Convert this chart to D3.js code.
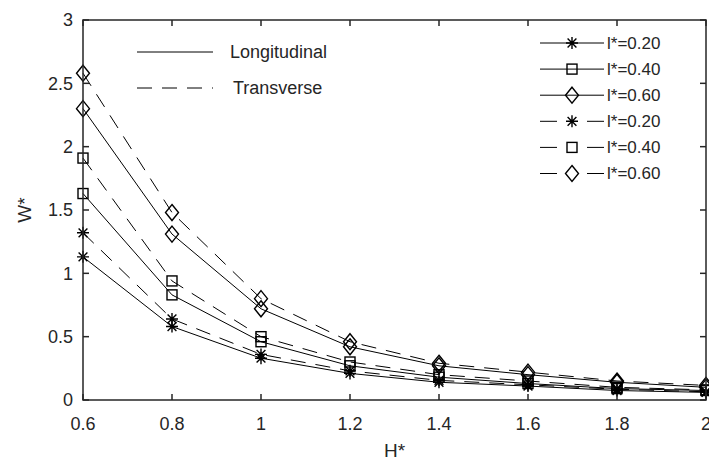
<!DOCTYPE html>
<html>
<head>
<meta charset="utf-8">
<script src="https://cdn.jsdelivr.net/npm/d3@7"></script>
<style>
  body { margin: 0; background: #fff; }
  text { font-family: "Liberation Sans", Arial, sans-serif; fill: #262626; }
</style>
</head>
<body>
<div id="chart"></div>
<script>
// H* values along the x axis
const hValues = [0.6, 0.8, 1.0, 1.2, 1.4, 1.6, 1.8, 2.0];
const lLabels = ['0.20', '0.40', '0.60'];
const markerTypes = ['star', 'square', 'diamond'];

// W*
const longitudinal020 = [1.13, 0.58, 0.33, 0.21, 0.14, 0.11, 0.075, 0.06];
const longitudinal040 = [1.63, 0.83, 0.46, 0.27, 0.18, 0.13, 0.09, 0.075];
const longitudinal060 = [2.30, 1.31, 0.72, 0.42, 0.27, 0.20, 0.14, 0.10];
const transverse020 = [1.32, 0.64, 0.36, 0.23, 0.155, 0.12, 0.085, 0.065];
const transverse040 = [1.91, 0.94, 0.50, 0.30, 0.20, 0.15, 0.10, 0.08];
const transverse060 = [2.58, 1.48, 0.80, 0.46, 0.29, 0.22, 0.15, 0.115];

const xTicks = [0.6, 0.8, 1, 1.2, 1.4, 1.6, 1.8, 2];
const yTicks = [0, 0.5, 1, 1.5, 2, 2.5, 3];

const series = [
  { values: longitudinal020, marker: 0, dashed: false },
  { values: longitudinal040, marker: 1, dashed: false },
  { values: longitudinal060, marker: 2, dashed: false },
  { values: transverse020, marker: 0, dashed: true },
  { values: transverse040, marker: 1, dashed: true },
  { values: transverse060, marker: 2, dashed: true }
];

const width = 709, height = 463;
const margin = { left: 83, top: 20, right: 3, bottom: 63 };
const dash = '15,10';

const svg = d3.select('#chart').append('svg')
  .attr('width', width)
  .attr('height', height);

const x = d3.scaleLinear().domain([0.6, 2]).range([margin.left, width - margin.right]);
const y = d3.scaleLinear().domain([0, 3]).range([height - margin.bottom, margin.top]);

function drawMarker(g, type, cx, cy) {
  const m = g.append('g').attr('transform', 'translate(' + [cx, cy] + ')')
    .style('fill', 'none').style('stroke', '#000').style('stroke-width', 1.4);
  if (type === 'square') {
    m.append('rect').attr('x', -5).attr('y', -5).attr('width', 10).attr('height', 10);
  } else if (type === 'diamond') {
    m.append('path').attr('d', 'M0,-8L6.5,0L0,8L-6.5,0Z');
  } else {
    const r = 6, d = 4.4;
    m.append('path').attr('d',
      'M0,' + -r + 'L0,' + r + 'M' + -r + ',0L' + r + ',0' +
      'M' + -d + ',' + -d + 'L' + d + ',' + d + 'M' + -d + ',' + d + 'L' + d + ',' + -d);
  }
}

const line = d3.line()
  .x((d, i) => x(hValues[i]))
  .y(d => y(d));

const plot = svg.append('g');

series.forEach(s => {
  plot.append('path')
    .datum(s.values)
    .attr('d', line)
    .style('fill', 'none')
    .style('stroke', '#000')
    .style('stroke-width', 1)
    .style('stroke-dasharray', s.dashed ? dash : null);
});

series.forEach(s => {
  s.values.forEach((v, i) => drawMarker(plot, markerTypes[s.marker], x(hValues[i]), y(v)));
});

// axes box with inward ticks
const axisColor = '#262626';
const x0 = x.range()[0], x1 = x.range()[1], y0 = y.range()[0], y1 = y.range()[1];
const frame = svg.append('g').style('stroke', axisColor).style('stroke-width', 1.5).style('fill', 'none');
frame.append('rect').attr('x', x0).attr('y', y1).attr('width', x1 - x0).attr('height', y0 - y1);

const tickLen = 6;
xTicks.forEach(t => {
  frame.append('line').attr('x1', x(t)).attr('x2', x(t)).attr('y1', y0).attr('y2', y0 - tickLen);
  frame.append('line').attr('x1', x(t)).attr('x2', x(t)).attr('y1', y1).attr('y2', y1 + tickLen);
});
yTicks.forEach(t => {
  frame.append('line').attr('x1', x0).attr('x2', x0 + tickLen).attr('y1', y(t)).attr('y2', y(t));
  frame.append('line').attr('x1', x1).attr('x2', x1 - tickLen).attr('y1', y(t)).attr('y2', y(t));
});

svg.append('g').selectAll('text')
  .data(xTicks)
  .enter().append('text')
  .attr('x', d => x(d))
  .attr('y', y0 + 30)
  .attr('text-anchor', 'middle')
  .style('font-size', '18px')
  .text(d => d3.format('~g')(d));

svg.append('g').selectAll('text')
  .data(yTicks)
  .enter().append('text')
  .attr('x', x0 - 10)
  .attr('y', d => y(d))
  .attr('dy', '0.35em')
  .attr('text-anchor', 'end')
  .style('font-size', '18px')
  .text(d => d3.format('~g')(d));

svg.append('text')
  .attr('x', (x0 + x1) / 2)
  .attr('y', 457)
  .attr('text-anchor', 'middle')
  .style('font-size', '19px')
  .text('H*');

svg.append('text')
  .attr('transform', 'translate(31,' + (y0 + y1) / 2 + ') rotate(-90)')
  .attr('text-anchor', 'middle')
  .style('font-size', '19px')
  .text('W*');

// line-style legend
const styleLegend = svg.append('g');
[['Longitudinal', false, 52], ['Transverse', true, 88]].forEach(d => {
  styleLegend.append('line')
    .attr('x1', 137).attr('x2', 213).attr('y1', d[2]).attr('y2', d[2])
    .style('stroke', '#000').style('stroke-width', 1)
    .style('stroke-dasharray', d[1] ? dash : null);
  styleLegend.append('text')
    .attr('x', d[1] ? 233 : 230).attr('y', d[2])
    .attr('dy', '0.35em')
    .style('font-size', '18px')
    .text(d[0]);
});

// marker legend
const markerLegend = svg.append('g');
series.forEach((s, i) => {
  const ly = 43 + i * 26.1;
  markerLegend.append('line')
    .attr('x1', 540).attr('x2', 604).attr('y1', ly).attr('y2', ly)
    .style('stroke', '#000').style('stroke-width', 1)
    .style('stroke-dasharray', s.dashed ? '17,30' : null);
  drawMarker(markerLegend, markerTypes[s.marker], 572, ly);
  markerLegend.append('text')
    .attr('x', 607).attr('y', ly)
    .attr('dy', '0.35em')
    .style('font-size', '17px')
    .text('l*=' + lLabels[s.marker]);
});
</script>
</body>
</html>
